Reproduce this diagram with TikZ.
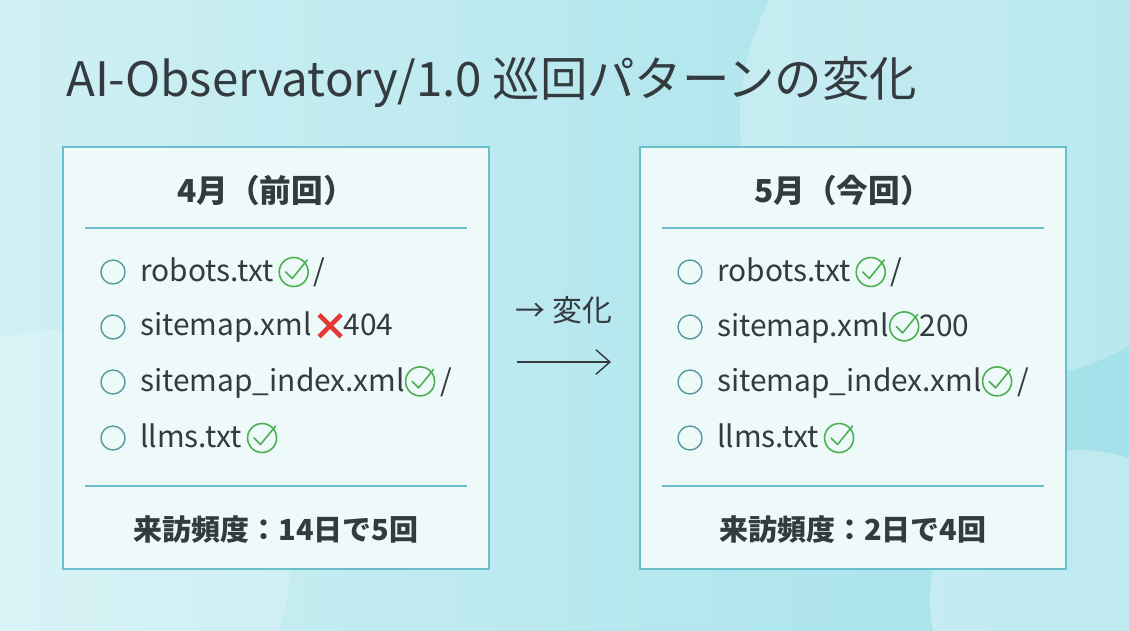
\documentclass[tikz,border=0pt]{standalone}
\usepackage{fontspec}
\setmainfont{Noto Sans CJK JP}
\usetikzlibrary{positioning,arrows.meta}
\definecolor{bgA}{HTML}{CFF0F4}
\definecolor{bgB}{HTML}{A4E1EA}
\definecolor{boxline}{HTML}{6BBFCB}
\definecolor{boxfill}{HTML}{EEF9FA}
\definecolor{okgreen}{HTML}{4CAF50}
\definecolor{ngred}{HTML}{E53935}
\definecolor{ink}{HTML}{333B3F}
\newcommand{\okmark}{\tikz[x=1cm,y=1cm,baseline=-0.6ex,line width=0.9pt,okgreen]{\draw (0,0) circle (0.29); \draw[line cap=round,line join=round] (-0.16,0.0) -- (-0.03,-0.13) -- (0.27,0.24);}}
\newcommand{\ngmark}{\tikz[x=1cm,y=1cm,baseline=-0.6ex,line width=2.6pt,ngred]{\draw (-0.22,-0.22) -- (0.22,0.22) (-0.22,0.22) -- (0.22,-0.22);}}
\begin{document}
\begin{tikzpicture}[x=0.02cm,y=-0.02cm,
  panel/.style = {draw=boxline,line width=0.8pt,fill=boxfill,minimum width=426*0.02cm,minimum height=422*0.02cm,inner sep=0pt},
  bullet/.style = {draw=boxline!80!black,circle,line width=0.8pt,minimum size=0.48cm,inner sep=0pt},
  item/.style = {anchor=west,inner sep=0pt,font=\fontsize{17}{20}\selectfont,text=ink},
  head/.style = {font=\fontsize{18}{20}\selectfont\bfseries,text=ink},
  foot/.style = {font=\fontsize{16.5}{20}\selectfont\bfseries,text=ink},
  rule/.style = {draw=boxline,line width=0.6pt}]
\useasboundingbox (0,0) rectangle (1129,630);
\clip (0,0) rectangle (1129,630);
\shade[left color=bgA,right color=bgB] (0,0) rectangle (1129,630);
\fill[white,opacity=0.25] (1000,120) circle (260);
\fill[white,opacity=0.2] (60,560) circle (230);
\fill[white,opacity=0.3] (1080,600) circle (150);

\node[anchor=west,text=ink,font=\fontsize{27}{30}\selectfont] (title) at (60,82) {AI-Observatory/1.0 巡回パターンの変化};

% left panel
\node[panel] (L) at (276,358) {};
\node[head] (Lh) at (266,190) {4月（前回）};
\draw[rule] (85,228) -- (467,228);
\node[bullet] (L1) at (113,272) {};
\node[item] (L1t) at (140,272) {robots.txt\,\okmark\,/};
\node[bullet] (L2) at (113,327) {};
\node[item] (L2t) at (140,327) {sitemap.xml\,\ngmark404};
\node[bullet] (L3) at (113,382) {};
\node[item] (L3t) at (140,382) {sitemap\_index.xml\okmark\,/};
\node[bullet] (L4) at (113,438) {};
\node[item] (L4t) at (140,438) {llms.txt\,\okmark};
\draw[rule] (85,486) -- (467,486);
\node[foot] (Lf) at (276,530) {来訪頻度：14日で5回};

% right panel
\node[panel] (R) at (853,358) {};
\node[head] (Rh) at (843,190) {5月（今回）};
\draw[rule] (662,228) -- (1044,228);
\node[bullet] (R1) at (690,272) {};
\node[item] (R1t) at (717,272) {robots.txt\,\okmark\,/};
\node[bullet] (R2) at (690,327) {};
\node[item] (R2t) at (717,327) {sitemap.xml\okmark200};
\node[bullet] (R3) at (690,382) {};
\node[item] (R3t) at (717,382) {sitemap\_index.xml\okmark\,/};
\node[bullet] (R4) at (690,438) {};
\node[item] (R4t) at (717,438) {llms.txt\,\okmark};
\draw[rule] (662,486) -- (1044,486);
\node[foot] (Rf) at (853,530) {来訪頻度：2日で4回};

% change arrow
\node[text=ink,font=\fontsize{17}{20}\selectfont] (chg) at (564,310) {→ 変化};
\coordinate (a0) at (517,362);
\coordinate (a1) at (611,362);
\draw[ink,line width=0.8pt,-{Straight Barb[length=8pt,width=14pt]}] (a0) -- (a1);
\end{tikzpicture}
\end{document}
